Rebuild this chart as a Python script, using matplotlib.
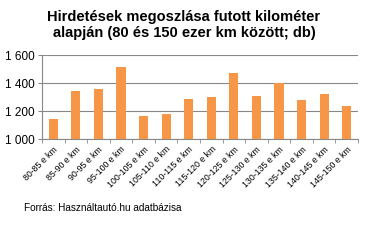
import matplotlib
matplotlib.use("Agg")
import matplotlib.pyplot as plt
import numpy as np

plt.rcParams['font.family'] = ['Liberation Sans', 'DejaVu Sans']

categories = ["80-85 e km", "85-90 e km", "90-95 e km", "95-100 e km", "100-105 e km",
              "105-110 e km", "110-115 e km", "115-120 e km", "120-125 e km", "125-130 e km",
              "130-135 e km", "135-140 e km", "140-145 e km", "145-150 e km"]
values = [1147, 1347, 1357, 1514, 1169, 1183, 1290, 1304, 1476, 1311, 1404, 1283, 1326, 1240]
yticks = [1000, 1200, 1400, 1600]
ytick_labels = ["1 000", "1 200", "1 400", "1 600"]

fig = plt.figure(figsize=(3.68, 2.40), dpi=100)
ax = fig.add_axes([42/368, 1 - 139.3/240, (358-42)/368, (139.3-55.3)/240])

x = np.arange(len(categories))
ax.bar(x, values, width=0.41, color="#F79646", zorder=3)
ax.set_xlim(-0.5, len(categories) - 0.5)
ax.set_ylim(1000, 1600)
ax.set_yticks(yticks)
ax.set_yticklabels(ytick_labels, fontsize=8.5)
ax.yaxis.grid(True, color="#888888", linewidth=0.8, zorder=0)
ax.set_xticks(x)
ax.set_xticklabels(categories, rotation=45, ha="right", rotation_mode="anchor", fontsize=6.3)
ax.set_xticks(np.arange(-0.5, len(categories)), minor=True)
ax.tick_params(axis="x", which="major", length=0, pad=4)
ax.tick_params(axis="x", which="minor", length=3, color="#888888")
ax.tick_params(axis="y", length=3, color="#888888", pad=2)
for s in ["top", "right"]:
    ax.spines[s].set_visible(False)
for s in ["left", "bottom"]:
    ax.spines[s].set_color("#888888")

fig.text(0.5, 1 - 25/240, "Hirdetések megoszlása futott kilométer\nalapján (80 és 150 ezer km között; db)",
         ha="center", va="center", fontsize=10.5, fontweight="bold", linespacing=1.25)
fig.text(24/368, 1 - 208/240, "Forrás: Használtautó.hu adatbázisa", fontsize=7.2, va="center")

fig.savefig("out.png", dpi=100)
